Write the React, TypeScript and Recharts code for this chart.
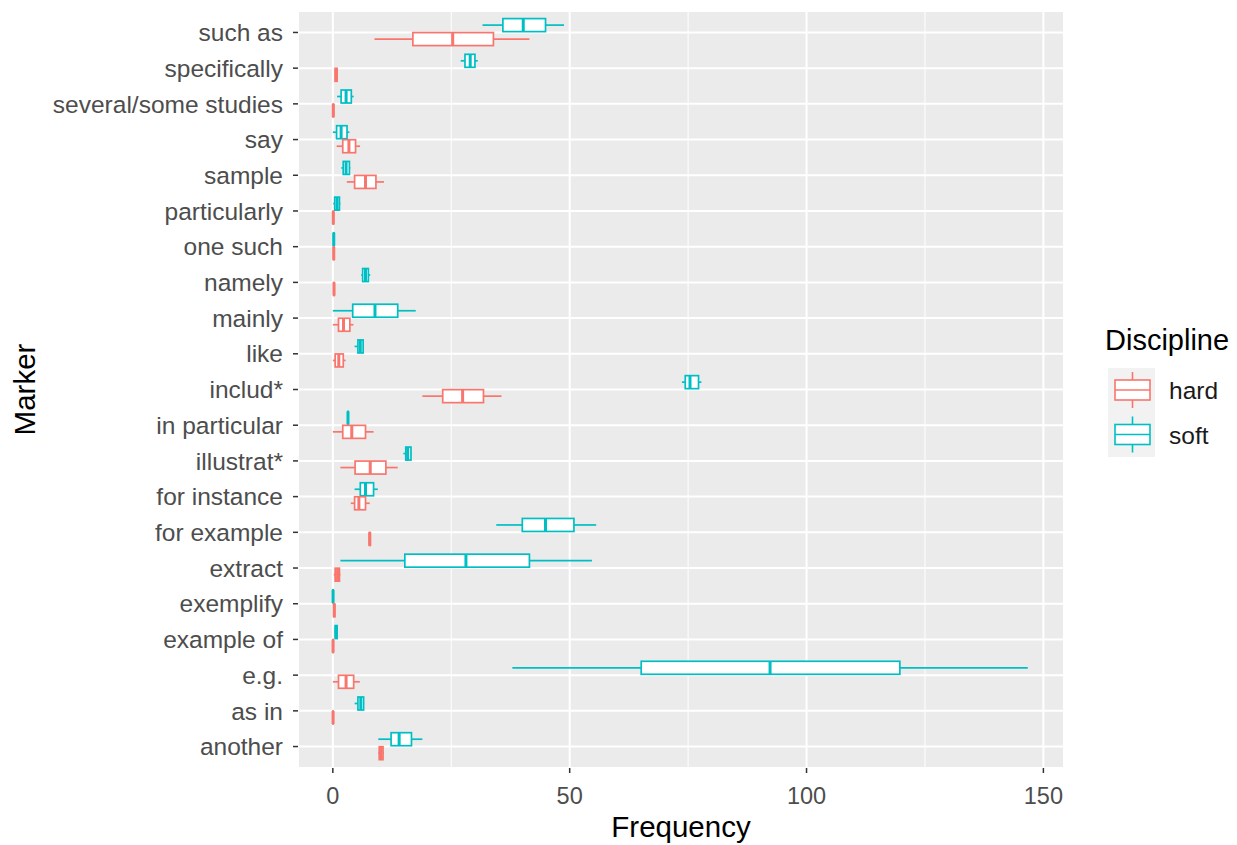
import React from "react";
import { Bar, CartesianGrid, ComposedChart, Label, XAxis, YAxis } from "recharts";

const FONT = "'Liberation Sans', Arial, sans-serif";
const HARD = "#F8766D";
const SOFT = "#00BFC4";

const markers = [
  "such as",
  "specifically",
  "several/some studies",
  "say",
  "sample",
  "particularly",
  "one such",
  "namely",
  "mainly",
  "like",
  "includ*",
  "in particular",
  "illustrat*",
  "for instance",
  "for example",
  "extract",
  "exemplify",
  "example of",
  "e.g.",
  "as in",
  "another",
];

// [min, q1, median, q3, max] per marker
const softStats = [
  [31.6, 35.9, 40.2, 44.9, 48.8],
  [27.0, 27.9, 29.0, 30.0, 30.6],
  [0.9, 1.75, 2.8, 3.9, 4.4],
  [0.0, 0.8, 1.75, 3.0, 3.5],
  [1.8, 2.2, 2.8, 3.5, 3.7],
  [0.1, 0.4, 0.9, 1.4, 1.6],
  [0.1, 0.15, 0.2, 0.25, 0.3],
  [6.0, 6.3, 6.9, 7.5, 7.9],
  [0.0, 4.2, 8.9, 13.7, 17.5],
  [4.6, 5.3, 5.8, 6.4, 6.5],
  [73.7, 74.4, 75.4, 77.2, 77.8],
  [3.15, 3.18, 3.2, 3.22, 3.25],
  [14.9, 15.4, 15.8, 16.5, 16.6],
  [4.6, 5.8, 6.9, 8.6, 9.5],
  [34.5, 40.0, 44.9, 50.9, 55.6],
  [1.6, 15.2, 28.1, 41.5, 54.7],
  [0.0, 0.02, 0.05, 0.08, 0.1],
  [0.4, 0.5, 0.7, 0.9, 1.0],
  [37.9, 65.1, 92.3, 119.7, 146.7],
  [4.6, 5.3, 5.9, 6.5, 6.6],
  [9.6, 12.3, 14.0, 16.6, 18.9],
];

const hardStats = [
  [8.8, 16.9, 25.3, 33.9, 41.5],
  [0.4, 0.5, 0.7, 0.9, 1.1],
  [0.0, 0.05, 0.1, 0.15, 0.2],
  [0.8, 2.1, 3.4, 4.8, 5.75],
  [2.95, 4.6, 6.9, 9.1, 10.8],
  [0.0, 0.05, 0.1, 0.15, 0.2],
  [0.1, 0.15, 0.2, 0.25, 0.3],
  [0.1, 0.2, 0.25, 0.3, 0.4],
  [0.0, 1.2, 2.25, 3.6, 4.35],
  [0.0, 0.5, 1.26, 2.2, 2.7],
  [18.9, 23.2, 27.4, 31.8, 35.6],
  [0.0, 2.1, 4.0, 6.9, 8.6],
  [1.6, 4.7, 7.9, 11.2, 13.7],
  [3.8, 4.6, 5.5, 6.9, 7.8],
  [7.6, 7.7, 7.8, 7.9, 8.0],
  [0.2, 0.5, 1.0, 1.4, 1.6],
  [0.1, 0.2, 0.3, 0.4, 0.5],
  [0.0, 0.02, 0.05, 0.08, 0.1],
  [0.0, 1.2, 2.8, 4.4, 5.7],
  [0.0, 0.02, 0.05, 0.08, 0.1],
  [9.6, 9.8, 10.2, 10.6, 10.8],
];

const xDomain = [-7.35, 154.35];
const xTicks = [0, 50, 100, 150];
const minorBreaks = [25, 75, 125];
const disciplines = [
  { name: "hard", color: HARD },
  { name: "soft", color: SOFT },
];

const rows = markers.map((marker, i) => ({
  marker,
  soft: softStats[i],
  hard: hardStats[i],
}));

// bar spans [min, max]; the quartiles are placed with the same px-per-unit
function boxShape(key: "soft" | "hard", color: string) {
  return (props: any) => {
    const { x, y, width, height, payload } = props;
    const [lo, q1, med, q3, hi] = payload[key] as number[];
    const k = hi > lo ? width / (hi - lo) : 0;
    const px = (v: number) => x + (v - lo) * k;
    const cy = y + height / 2;
    return (
      <g>
        <line x1={px(lo)} x2={px(q1)} y1={cy} y2={cy} stroke={color} strokeWidth={1.7} />
        <line x1={px(q3)} x2={px(hi)} y1={cy} y2={cy} stroke={color} strokeWidth={1.7} />
        <rect
          x={px(q1)}
          y={y}
          width={Math.max(px(q3) - px(q1), 0.3)}
          height={height}
          fill="#ffffff"
          stroke={color}
          strokeWidth={1.7}
        />
        <line x1={px(med)} x2={px(med)} y1={y} y2={y + height} stroke={color} strokeWidth={3} />
      </g>
    );
  };
}

// minor breaks sit between the major ones, placed over the plot area
function minorLines(args: any) {
  const off = args && args.offset;
  if (!off || typeof off.left !== "number" || typeof off.width !== "number") return [];
  return minorBreaks.map(
    (v) => off.left + ((v - xDomain[0]) / (xDomain[1] - xDomain[0])) * off.width
  );
}

function LegendBox() {
  return (
    <svg
      width={137}
      height={140}
      style={{ position: "absolute", left: 1100, top: 320, fontFamily: FONT }}
    >
      <text x={5} y={30} fontSize={29} fill="#000">
        Discipline
      </text>
      <rect x={8} y={48} width={47} height={89} fill="#F2F2F2" />
      {disciplines.map((d, i) => {
        const cy = 70 + i * 44.5;
        return (
          <g key={d.name}>
            <line x1={32.5} x2={32.5} y1={cy - 18} y2={cy + 18} stroke={d.color} strokeWidth={1.6} />
            <rect x={15} y={cy - 10} width={35} height={20} fill="#fff" stroke={d.color} strokeWidth={1.6} />
            <line x1={15} x2={50} y1={cy} y2={cy} stroke={d.color} strokeWidth={1.6} />
            <text x={69} y={cy + 9} fontSize={24.5} fill="#1a1a1a">
              {d.name}
            </text>
          </g>
        );
      })}
    </svg>
  );
}

export default function App() {
  return (
    <div style={{ position: "absolute", left: 0, top: 0, width: 1237, height: 845, background: "#fff" }}>
      <ComposedChart
        width={1237}
        height={845}
        data={rows}
        layout="vertical"
        margin={{ top: 11, right: 173, left: 0, bottom: 0 }}
        barSize={13}
        barGap={1}
        style={{ fontFamily: FONT }}
      >
        <CartesianGrid fill="#EBEBEB" stroke="#ffffff" strokeWidth={2} />
        <CartesianGrid
          horizontal={false}
          stroke="#ffffff"
          strokeWidth={1}
          verticalCoordinatesGenerator={minorLines}
        />
        <XAxis
          type="number"
          domain={xDomain}
          ticks={xTicks}
          allowDataOverflow
          height={77}
          axisLine={false}
          tickSize={5}
          tickMargin={14}
          tickLine={{ stroke: "#333333", strokeWidth: 1.5 }}
          tick={{ fill: "#4D4D4D", fontSize: 23.5, fontFamily: FONT }}
        >
          <Label value="Frequency" position="insideBottom" offset={8} fill="#000" fontSize={29.5} fontFamily={FONT} />
        </XAxis>
        <YAxis
          type="category"
          dataKey="marker"
          width={298}
          interval={0}
          padding={{ top: 3.6, bottom: 3.6 }}
          axisLine={false}
          tickSize={5}
          tickMargin={10}
          tickLine={{ stroke: "#333333", strokeWidth: 1.5 }}
          tick={{ fill: "#4D4D4D", fontSize: 24.5, fontFamily: FONT }}
        >
          <Label
            content={({ viewBox }: any) => {
              const cy = viewBox.y + viewBox.height / 2;
              return (
                <text
                  x={35}
                  y={cy}
                  transform={`rotate(-90, 35, ${cy})`}
                  textAnchor="middle"
                  fontSize={29.5}
                  fontFamily={FONT}
                  fill="#000"
                >
                  Marker
                </text>
              );
            }}
          />
        </YAxis>
        <Bar
          dataKey={(d: any) => [d.soft[0], d.soft[4]]}
          name="soft"
          shape={boxShape("soft", SOFT)}
          isAnimationActive={false}
        />
        <Bar
          dataKey={(d: any) => [d.hard[0], d.hard[4]]}
          name="hard"
          shape={boxShape("hard", HARD)}
          isAnimationActive={false}
        />
      </ComposedChart>
      <LegendBox />
    </div>
  );
}
